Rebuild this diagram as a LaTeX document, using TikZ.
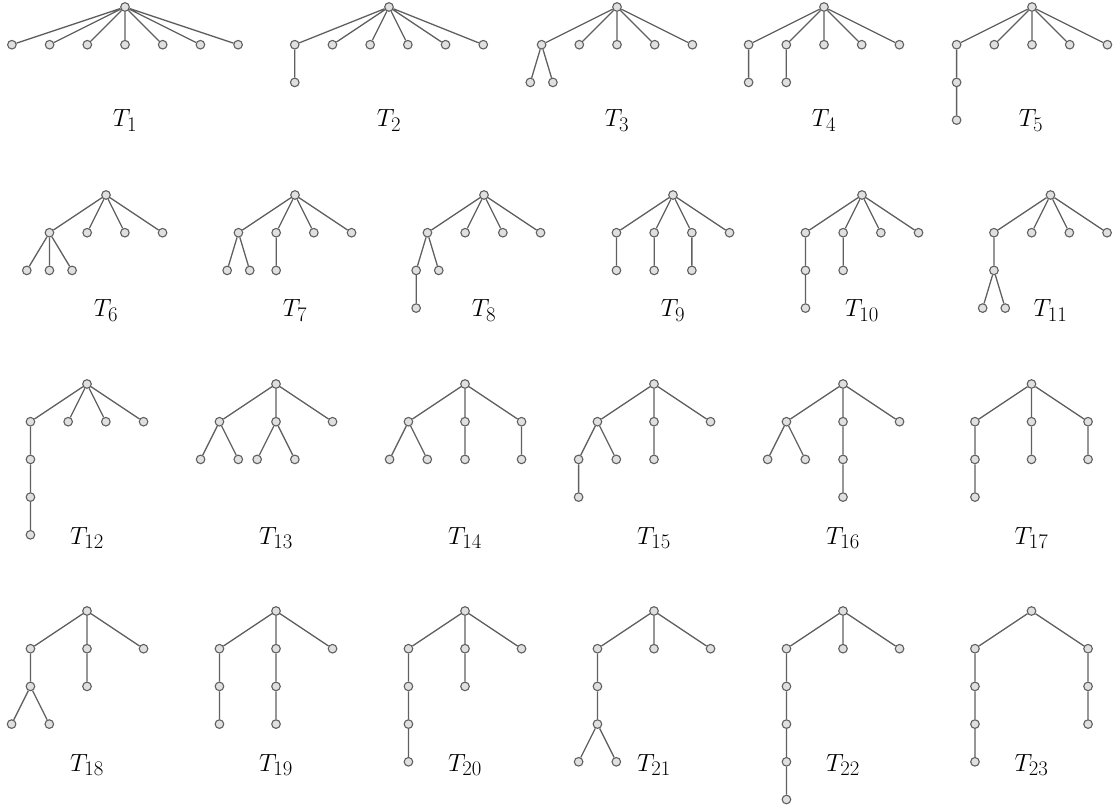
\documentclass[tikz,border=0pt]{standalone}
\definecolor{nodefill}{HTML}{E0E0E0}
\definecolor{linecol}{HTML}{606060}
\tikzset{
  v/.style={circle,draw=linecol,fill=nodefill,line width=1.1pt,minimum size=8.6pt,inner sep=0pt},
  e/.style={draw=linecol,line width=1.3pt},
  lab/.style={font=\Huge,inner sep=0pt,anchor=base}
}
\begin{document}
\begin{tikzpicture}[x=1pt,y=-1pt]
\useasboundingbox (0,0) rectangle (1117,810);
% ---------- Row 1 ----------
% T1
\node[v] (a0) at (125,7) {};
\node[v] (a1) at (11.9,44.7) {};
\node[v] (a2) at (49.6,44.7) {};
\node[v] (a3) at (87.3,44.7) {};
\node[v] (a4) at (125,44.7) {};
\node[v] (a5) at (162.7,44.7) {};
\node[v] (a6) at (200.4,44.7) {};
\node[v] (a7) at (238.1,44.7) {};
\draw[e] (a0)--(a1) (a0)--(a2) (a0)--(a3) (a0)--(a4) (a0)--(a5) (a0)--(a6) (a0)--(a7);
\node[lab] (la) at (125,127) {$T_{1}$};
% T2
\node[v] (b0) at (389,7) {};
\node[v] (b1) at (294.75,44.7) {};
\node[v] (b2) at (332.45,44.7) {};
\node[v] (b3) at (370.15,44.7) {};
\node[v] (b4) at (407.85,44.7) {};
\node[v] (b5) at (445.55,44.7) {};
\node[v] (b6) at (483.25,44.7) {};
\node[v] (b7) at (294.75,82.4) {};
\draw[e] (b0)--(b1) (b0)--(b2) (b0)--(b3) (b0)--(b4) (b0)--(b5) (b0)--(b6) (b1)--(b7);
\node[lab] (lb) at (389,127) {$T_{2}$};
% T3
\node[v] (c0) at (617,7) {};
\node[v] (c1) at (541.6,44.7) {};
\node[v] (c2) at (579.3,44.7) {};
\node[v] (c3) at (617,44.7) {};
\node[v] (c4) at (654.7,44.7) {};
\node[v] (c5) at (692.4,44.7) {};
\node[v] (c6) at (530.3,82.4) {};
\node[v] (c7) at (552.9,82.4) {};
\draw[e] (c0)--(c1) (c0)--(c2) (c0)--(c3) (c0)--(c4) (c0)--(c5) (c1)--(c6) (c1)--(c7);
\node[lab] (lc) at (617,127) {$T_{3}$};
% T4
\node[v] (d0) at (824,7) {};
\node[v] (d1) at (748.6,44.7) {};
\node[v] (d2) at (786.3,44.7) {};
\node[v] (d3) at (824,44.7) {};
\node[v] (d4) at (861.7,44.7) {};
\node[v] (d5) at (899.4,44.7) {};
\node[v] (d6) at (748.6,82.4) {};
\node[v] (d7) at (786.3,82.4) {};
\draw[e] (d0)--(d1) (d0)--(d2) (d0)--(d3) (d0)--(d4) (d0)--(d5) (d1)--(d6) (d2)--(d7);
\node[lab] (ld) at (824,127) {$T_{4}$};
% T5
\node[v] (e0) at (1032,7) {};
\node[v] (e1) at (956.6,44.7) {};
\node[v] (e2) at (994.3,44.7) {};
\node[v] (e3) at (1032,44.7) {};
\node[v] (e4) at (1069.7,44.7) {};
\node[v] (e5) at (1107.4,44.7) {};
\node[v] (e6) at (956.6,82.4) {};
\node[v] (e7) at (956.6,120.1) {};
\draw[e] (e0)--(e1) (e0)--(e2) (e0)--(e3) (e0)--(e4) (e0)--(e5) (e1)--(e6) (e6)--(e7);
\node[lab] (le) at (1031,127) {$T_{5}$};
% ---------- Row 2 ----------
% T6
\node[v] (f0) at (106,195) {};
\node[v] (f1) at (49.45,232.7) {};
\node[v] (f2) at (87.15,232.7) {};
\node[v] (f3) at (124.85,232.7) {};
\node[v] (f4) at (162.55,232.7) {};
\node[v] (f5) at (26.8,270.4) {};
\node[v] (f6) at (49.45,270.4) {};
\node[v] (f7) at (72.1,270.4) {};
\draw[e] (f0)--(f1) (f0)--(f2) (f0)--(f3) (f0)--(f4) (f1)--(f5) (f1)--(f6) (f1)--(f7);
\node[lab] (lf) at (106,317) {$T_{6}$};
% T7
\node[v] (g0) at (295,195) {};
\node[v] (g1) at (238.45,232.7) {};
\node[v] (g2) at (276.15,232.7) {};
\node[v] (g3) at (313.85,232.7) {};
\node[v] (g4) at (351.55,232.7) {};
\node[v] (g5) at (227.15,270.4) {};
\node[v] (g6) at (249.75,270.4) {};
\node[v] (g7) at (276.15,270.4) {};
\draw[e] (g0)--(g1) (g0)--(g2) (g0)--(g3) (g0)--(g4) (g1)--(g5) (g1)--(g6) (g2)--(g7);
\node[lab] (lg) at (295,317) {$T_{7}$};
% T8
\node[v] (h0) at (484,195) {};
\node[v] (h1) at (427.45,232.7) {};
\node[v] (h2) at (465.15,232.7) {};
\node[v] (h3) at (502.85,232.7) {};
\node[v] (h4) at (540.55,232.7) {};
\node[v] (h5) at (416.15,270.4) {};
\node[v] (h6) at (438.75,270.4) {};
\node[v] (h7) at (416.15,308.1) {};
\draw[e] (h0)--(h1) (h0)--(h2) (h0)--(h3) (h0)--(h4) (h1)--(h5) (h1)--(h6) (h5)--(h7);
\node[lab] (lh) at (484,317) {$T_{8}$};
% T9
\node[v] (i0) at (673,195) {};
\node[v] (i1) at (616.45,232.7) {};
\node[v] (i2) at (654.15,232.7) {};
\node[v] (i3) at (691.85,232.7) {};
\node[v] (i4) at (729.55,232.7) {};
\node[v] (i5) at (616.45,270.4) {};
\node[v] (i6) at (654.15,270.4) {};
\node[v] (i7) at (691.85,270.4) {};
\draw[e] (i0)--(i1) (i0)--(i2) (i0)--(i3) (i0)--(i4) (i1)--(i5) (i2)--(i6) (i3)--(i7);
\node[lab] (li) at (673,317) {$T_{9}$};
% T10
\node[v] (j0) at (862,195) {};
\node[v] (j1) at (805.45,232.7) {};
\node[v] (j2) at (843.15,232.7) {};
\node[v] (j3) at (880.85,232.7) {};
\node[v] (j4) at (918.55,232.7) {};
\node[v] (j5) at (805.45,270.4) {};
\node[v] (j6) at (805.45,308.1) {};
\node[v] (j7) at (843.15,270.4) {};
\draw[e] (j0)--(j1) (j0)--(j2) (j0)--(j3) (j0)--(j4) (j1)--(j5) (j5)--(j6) (j2)--(j7);
\node[lab] (lj) at (862,317) {$T_{10}$};
% T11
\node[v] (k0) at (1050.5,195) {};
\node[v] (k1) at (993.95,232.7) {};
\node[v] (k2) at (1031.65,232.7) {};
\node[v] (k3) at (1069.35,232.7) {};
\node[v] (k4) at (1107.05,232.7) {};
\node[v] (k5) at (993.95,270.4) {};
\node[v] (k6) at (982.65,308.1) {};
\node[v] (k7) at (1005.25,308.1) {};
\draw[e] (k0)--(k1) (k0)--(k2) (k0)--(k3) (k0)--(k4) (k1)--(k5) (k5)--(k6) (k5)--(k7);
\node[lab] (lk) at (1050.5,317) {$T_{11}$};
% ---------- Row 3 ----------
% T12
\node[v] (l0) at (87,384) {};
\node[v] (l1) at (30.45,421.7) {};
\node[v] (l2) at (68.15,421.7) {};
\node[v] (l3) at (105.85,421.7) {};
\node[v] (l4) at (143.55,421.7) {};
\node[v] (l5) at (30.45,459.4) {};
\node[v] (l6) at (30.45,497.1) {};
\node[v] (l7) at (30.45,534.8) {};
\draw[e] (l0)--(l1) (l0)--(l2) (l0)--(l3) (l0)--(l4) (l1)--(l5) (l5)--(l6) (l6)--(l7);
\node[lab] (ll) at (87,544) {$T_{12}$};
% T13
\node[v] (m0) at (276,384) {};
\node[v] (m1) at (219.45,421.7) {};
\node[v] (m2) at (276,421.7) {};
\node[v] (m3) at (332.55,421.7) {};
\node[v] (m4) at (200.6,459.4) {};
\node[v] (m5) at (238.3,459.4) {};
\node[v] (m6) at (257.15,459.4) {};
\node[v] (m7) at (294.85,459.4) {};
\draw[e] (m0)--(m1) (m0)--(m2) (m0)--(m3) (m1)--(m4) (m1)--(m5) (m2)--(m6) (m2)--(m7);
\node[lab] (lm) at (276,544) {$T_{13}$};
% T14
\node[v] (n0) at (465,384) {};
\node[v] (n1) at (408.45,421.7) {};
\node[v] (n2) at (465,421.7) {};
\node[v] (n3) at (521.55,421.7) {};
\node[v] (n4) at (389.6,459.4) {};
\node[v] (n5) at (427.3,459.4) {};
\node[v] (n6) at (465,459.4) {};
\node[v] (n7) at (521.55,459.4) {};
\draw[e] (n0)--(n1) (n0)--(n2) (n0)--(n3) (n1)--(n4) (n1)--(n5) (n2)--(n6) (n3)--(n7);
\node[lab] (ln) at (465,544) {$T_{14}$};
% T15
\node[v] (o0) at (654,384) {};
\node[v] (o1) at (597.45,421.7) {};
\node[v] (o2) at (654,421.7) {};
\node[v] (o3) at (710.55,421.7) {};
\node[v] (o4) at (578.6,459.4) {};
\node[v] (o5) at (616.3,459.4) {};
\node[v] (o6) at (578.6,497.1) {};
\node[v] (o7) at (654,459.4) {};
\draw[e] (o0)--(o1) (o0)--(o2) (o0)--(o3) (o1)--(o4) (o1)--(o5) (o4)--(o6) (o2)--(o7);
\node[lab] (lo) at (654,544) {$T_{15}$};
% T16
\node[v] (p0) at (843,384) {};
\node[v] (p1) at (786.45,421.7) {};
\node[v] (p2) at (843,421.7) {};
\node[v] (p3) at (899.55,421.7) {};
\node[v] (p4) at (767.6,459.4) {};
\node[v] (p5) at (805.3,459.4) {};
\node[v] (p6) at (843,459.4) {};
\node[v] (p7) at (843,497.1) {};
\draw[e] (p0)--(p1) (p0)--(p2) (p0)--(p3) (p1)--(p4) (p1)--(p5) (p2)--(p6) (p6)--(p7);
\node[lab] (lp) at (843,544) {$T_{16}$};
% T17
\node[v] (q0) at (1031.5,384) {};
\node[v] (q1) at (974.95,421.7) {};
\node[v] (q2) at (1031.5,421.7) {};
\node[v] (q3) at (1088.05,421.7) {};
\node[v] (q4) at (974.95,459.4) {};
\node[v] (q5) at (974.95,497.1) {};
\node[v] (q6) at (1031.5,459.4) {};
\node[v] (q7) at (1088.05,459.4) {};
\draw[e] (q0)--(q1) (q0)--(q2) (q0)--(q3) (q1)--(q4) (q4)--(q5) (q2)--(q6) (q3)--(q7);
\node[lab] (lq) at (1031.5,544) {$T_{17}$};
% ---------- Row 4 ----------
% T18
\node[v] (r0) at (87,611) {};
\node[v] (r1) at (30.45,648.7) {};
\node[v] (r2) at (87,648.7) {};
\node[v] (r3) at (143.55,648.7) {};
\node[v] (r4) at (30.45,686.4) {};
\node[v] (r5) at (11.6,724.1) {};
\node[v] (r6) at (49.3,724.1) {};
\node[v] (r7) at (87,686.4) {};
\draw[e] (r0)--(r1) (r0)--(r2) (r0)--(r3) (r1)--(r4) (r4)--(r5) (r4)--(r6) (r2)--(r7);
\node[lab] (lr) at (87,771) {$T_{18}$};
% T19
\node[v] (s0) at (276,611) {};
\node[v] (s1) at (219.45,648.7) {};
\node[v] (s2) at (276,648.7) {};
\node[v] (s3) at (332.55,648.7) {};
\node[v] (s4) at (219.45,686.4) {};
\node[v] (s5) at (219.45,724.1) {};
\node[v] (s6) at (276,686.4) {};
\node[v] (s7) at (276,724.1) {};
\draw[e] (s0)--(s1) (s0)--(s2) (s0)--(s3) (s1)--(s4) (s4)--(s5) (s2)--(s6) (s6)--(s7);
\node[lab] (ls) at (276,771) {$T_{19}$};
% T20
\node[v] (t0) at (465,611) {};
\node[v] (t1) at (408.45,648.7) {};
\node[v] (t2) at (465,648.7) {};
\node[v] (t3) at (521.55,648.7) {};
\node[v] (t4) at (408.45,686.4) {};
\node[v] (t5) at (408.45,724.1) {};
\node[v] (t6) at (408.45,761.8) {};
\node[v] (t7) at (465,686.4) {};
\draw[e] (t0)--(t1) (t0)--(t2) (t0)--(t3) (t1)--(t4) (t4)--(t5) (t5)--(t6) (t2)--(t7);
\node[lab] (lt) at (465,771) {$T_{20}$};
% T21
\node[v] (u0) at (654,611) {};
\node[v] (u1) at (597.45,648.7) {};
\node[v] (u2) at (654,648.7) {};
\node[v] (u3) at (710.55,648.7) {};
\node[v] (u4) at (597.45,686.4) {};
\node[v] (u5) at (597.45,724.1) {};
\node[v] (u6) at (578.6,761.8) {};
\node[v] (u7) at (616.3,761.8) {};
\draw[e] (u0)--(u1) (u0)--(u2) (u0)--(u3) (u1)--(u4) (u4)--(u5) (u5)--(u6) (u5)--(u7);
\node[lab] (lu) at (654,771) {$T_{21}$};
% T22
\node[v] (w0) at (843,611) {};
\node[v] (w1) at (786.45,648.7) {};
\node[v] (w2) at (843,648.7) {};
\node[v] (w3) at (899.55,648.7) {};
\node[v] (w4) at (786.45,686.4) {};
\node[v] (w5) at (786.45,724.1) {};
\node[v] (w6) at (786.45,761.8) {};
\node[v] (w7) at (786.45,799.5) {};
\draw[e] (w0)--(w1) (w0)--(w2) (w0)--(w3) (w1)--(w4) (w4)--(w5) (w5)--(w6) (w6)--(w7);
\node[lab] (lw) at (843,771) {$T_{22}$};
% T23
\node[v] (z0) at (1031.5,611) {};
\node[v] (z1) at (974.95,648.7) {};
\node[v] (z2) at (1088.05,648.7) {};
\node[v] (z3) at (974.95,686.4) {};
\node[v] (z4) at (974.95,724.1) {};
\node[v] (z5) at (974.95,761.8) {};
\node[v] (z6) at (1088.05,686.4) {};
\node[v] (z7) at (1088.05,724.1) {};
\draw[e] (z0)--(z1) (z0)--(z2) (z1)--(z3) (z3)--(z4) (z4)--(z5) (z2)--(z6) (z6)--(z7);
\node[lab] (lz) at (1031.5,771) {$T_{23}$};
\end{tikzpicture}
\end{document}
